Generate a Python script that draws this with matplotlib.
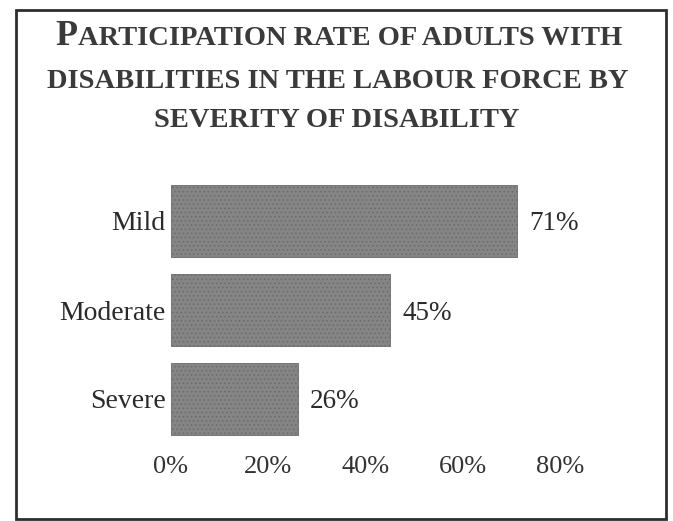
import matplotlib
matplotlib.use("Agg")
import matplotlib.pyplot as plt
from matplotlib.patches import Rectangle

categories = ["Mild", "Moderate", "Severe"]
rates = [71, 45, 26]
ticks = [0, 20, 40, 60, 80]
tick_labels = ["0%", "20%", "40%", "60%", "80%"]

title_first = "P"
title_lines = ["ARTICIPATION RATE OF ADULTS WITH",
               "DISABILITIES IN THE LABOUR FORCE BY",
               "SEVERITY OF DISABILITY"]

plt.rcParams["font.family"] = "Liberation Serif"

W, H = 673, 521
fig = plt.figure(figsize=(W / 100, H / 100), dpi=100)

# frame around the whole chart
fig.patches.append(Rectangle((16 / W, 1 - 519 / H), 650 / W, 509 / H,
                             transform=fig.transFigure, fill=False,
                             lw=2, ec="#2e2e2e"))

# axes: 0% at x=171, 4.87 px per %; rows 89 px apart
left = 171 / W
width = 4.87 * 100 / W
ax = fig.add_axes([left, 1 - 443.5 / H, width, 267 / H])

plt.rcParams["hatch.linewidth"] = 0.6
bars = ax.barh(categories, rates, height=0.81, color="#858585",
               edgecolor="#6a6a6a", lw=0.6, hatch="....")

for b, v in zip(bars, rates):
    ax.annotate(f"{v}%", (v, b.get_y() + b.get_height() / 2),
                xytext=(9, 0), textcoords="offset points",
                va="center_baseline", ha="left", fontsize=19.5,
                color="#2a2a2a")

ax.set_xlim(0, 100)
ax.set_ylim(2.5, -0.5)
ax.set_xticks(ticks)
ax.set_xticklabels(tick_labels)
ax.tick_params(axis="x", length=0, pad=9, labelsize=19, labelcolor="#333333")
ax.tick_params(axis="y", length=0, pad=4, labelsize=20, labelcolor="#2a2a2a")
for t in ax.get_yticklabels():
    t.set_va("center_baseline")
for s in ax.spines.values():
    s.set_visible(False)

# title in small caps: large first letter on line 1
tc = "#3a3a3a"
tsz = 20.5
r = fig.canvas.get_renderer()
y1 = 1 - 45 / H
tp = fig.text(0, y1, title_first, fontsize=26, va="baseline", color=tc,
              fontweight="bold")
tr = fig.text(0, y1, title_lines[0], fontsize=tsz, va="baseline", color=tc,
              fontweight="bold")
wp = tp.get_window_extent(r).width
wr = tr.get_window_extent(r).width
x0 = (339 - (wp + wr) / 2)
tp.set_x(x0 / W)
tr.set_x((x0 + wp) / W)

fig.text(338 / W, 1 - 88 / H, title_lines[1], fontsize=tsz, ha="center",
         va="baseline", color=tc, fontweight="bold")
fig.text(337 / W, 1 - 127 / H, title_lines[2], fontsize=tsz, ha="center",
         va="baseline", color=tc, fontweight="bold")

fig.savefig("out.png", dpi=100)
